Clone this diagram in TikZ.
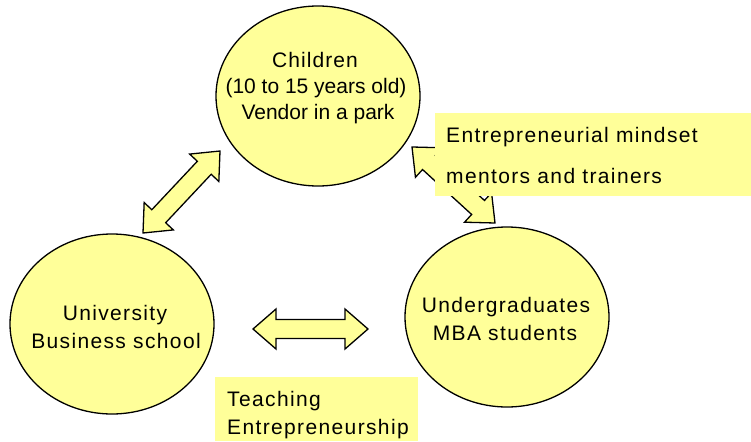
\documentclass[tikz,border=0pt]{standalone}
\usepackage{fontspec}
\setmainfont{Liberation Sans}
\usetikzlibrary{calc,shapes.geometric}
\definecolor{paleyellow}{HTML}{FFFF99}
\tikzset{
  circ/.style={ellipse, draw=black, line width=1.3pt, fill=paleyellow,
    minimum width=204pt, minimum height=180pt, inner sep=0pt},
  blockarrow/.style={draw=black, line width=1.3pt, fill=paleyellow, line join=miter},
  labelbox/.style={fill=paleyellow, draw=none},
  txt/.style={font=\fontsize{21}{25}\selectfont, inner sep=0pt, anchor=base},
  wide/.style={font=\fontsize{21}{25}\selectfont\addfontfeatures{LetterSpace=6.5}},
  txtl/.style={txt, wide, anchor=base west},
}
% double block arrow between two named tip coordinates
\newcommand\dblarrow[2]{%
  \coordinate (da1) at ($(#1)!23pt!(#2)$);
  \coordinate (da2) at ($(#2)!23pt!(#1)$);
  \draw[blockarrow] (#1) -- ($(da1)!20pt!90:(#2)$) -- ($(da1)!9.5pt!90:(#2)$)
    -- ($(da2)!9.5pt!-90:(#1)$) -- ($(da2)!20pt!-90:(#1)$) -- (#2)
    -- ($(da2)!20pt!90:(#1)$) -- ($(da2)!9.5pt!90:(#1)$)
    -- ($(da1)!9.5pt!-90:(#2)$) -- ($(da1)!20pt!-90:(#2)$) -- cycle;}
\begin{document}
\begin{tikzpicture}[x=1pt, y=-1pt]
\useasboundingbox (0,0) rectangle (751,441);
% circles
\node[circ] (children) at (318,96) {};
\node[circ] (univ) at (112,324) {};
\node[circ] (under) at (507,317) {};
% arrows
\coordinate (a1) at (220,151);
\coordinate (a2) at (143,233);
\coordinate (b1) at (412,147);
\coordinate (b2) at (495,223);
\coordinate (c1) at (253,329);
\coordinate (c2) at (368,329);
\dblarrow{a1}{a2}
\dblarrow{b1}{b2}
\dblarrow{c1}{c2}
% label boxes
\node[labelbox, minimum width=316pt, minimum height=83pt, anchor=north west, inner sep=0pt] (mindbox) at (435,113) {};
\node[labelbox, minimum width=203pt, minimum height=64pt, anchor=north west, inner sep=0pt] (teachbox) at (215,377) {};
% texts
\node[txt, font=\fontsize{21}{25}\selectfont\addfontfeatures{LetterSpace=5}] (ch1) at (315,68) {Children};
\node[txt] (ch2) at (316,94) {(10 to 15 years old)};
\node[txt] (ch3) at (318,119) {Vendor in a park};
\node[txt, wide] (un1) at (115,320) {University};
\node[txt, wide] (un2) at (116,348) {Business school};
\node[txt, wide] (ug1) at (506,312) {Undergraduates};
\node[txt, wide] (ug2) at (505,340) {MBA students};
\node[txtl] (m1) at (446,142) {Entrepreneurial mindset};
\node[txtl] (m2) at (446,183) {mentors and trainers};
\node[txtl] (t1) at (227,406) {Teaching};
\node[txtl] (t2) at (227,434) {Entrepreneurship};
\end{tikzpicture}
\end{document}
